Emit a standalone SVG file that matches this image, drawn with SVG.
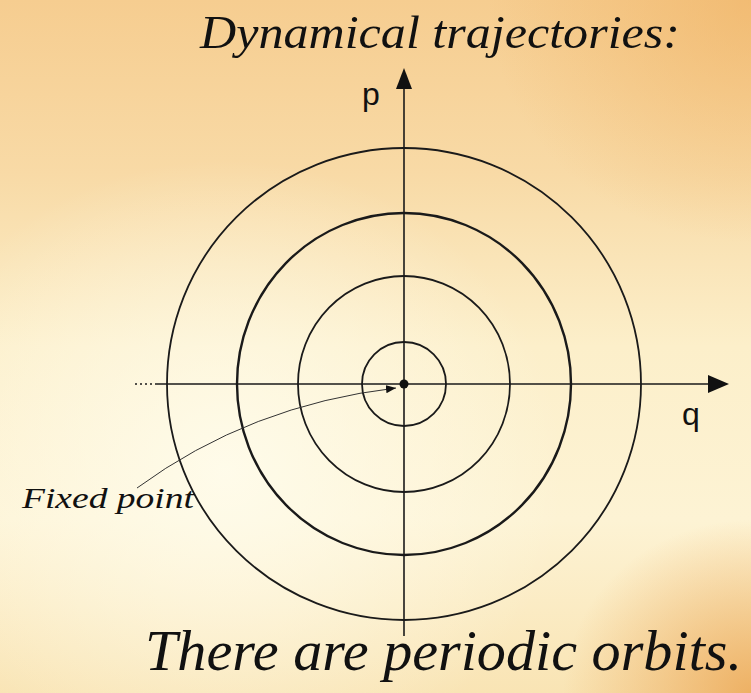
<svg xmlns="http://www.w3.org/2000/svg" width="751" height="693" viewBox="0 0 751 693">
<defs>
<linearGradient id="bg" x1="0" y1="0" x2="0" y2="1">
<stop offset="0" stop-color="#f6cd90"/>
<stop offset="0.25" stop-color="#f8daa6"/>
<stop offset="0.5" stop-color="#fcefca"/>
<stop offset="0.75" stop-color="#fdf3d4"/>
<stop offset="1" stop-color="#f9e4b4"/>
</linearGradient>
<radialGradient id="glow" cx="0.3" cy="0.68" r="0.45">
<stop offset="0" stop-color="#fffdee" stop-opacity="0.85"/>
<stop offset="1" stop-color="#fffdee" stop-opacity="0"/>
</radialGradient>
<radialGradient id="corner" cx="1" cy="1" r="0.25">
<stop offset="0" stop-color="#eba450" stop-opacity="0.8"/>
<stop offset="1" stop-color="#eba450" stop-opacity="0"/>
</radialGradient>
<radialGradient id="corner2" cx="1" cy="0" r="0.35">
<stop offset="0" stop-color="#efb060" stop-opacity="0.6"/>
<stop offset="1" stop-color="#efb060" stop-opacity="0"/>
</radialGradient>
<marker id="ah" viewBox="0 0 10 10" refX="10" refY="5" markerWidth="10" markerHeight="10" markerUnits="userSpaceOnUse" orient="auto">
<path d="M0,1 L10,5 L0,9 Z" fill="#111"/>
</marker>
<style>
.orb{fill:none;stroke:#1a1a1a;stroke-width:1.8}
.ax{fill:none;stroke:#1a1a1a;stroke-width:1.6}
.it{font-family:"Liberation Serif","DejaVu Serif",serif;font-style:italic;fill:#111}
.lbl{font-family:"Liberation Sans","DejaVu Sans",sans-serif;fill:#111}
</style>
</defs>
<rect width="751" height="693" fill="url(#bg)"/>
<rect width="751" height="693" fill="url(#glow)"/>
<rect width="751" height="693" fill="url(#corner)"/>
<rect width="751" height="693" fill="url(#corner2)"/>
<g id="orbits">
<g id="orbit1"><ellipse class="orb" cx="404" cy="384" rx="42" ry="42"/></g>
<g id="orbit2"><ellipse class="orb" cx="404" cy="384" rx="106" ry="108"/></g>
<g id="orbit3"><ellipse class="orb" cx="404" cy="384" rx="167" ry="171" style="stroke-width:2.4"/></g>
<g id="orbit4"><ellipse class="orb" cx="404" cy="384" rx="237" ry="236"/></g>
</g>
<g id="connectors">
<line class="ax" x1="155" y1="384" x2="708" y2="384"/>
<path d="M708,375 L729,384 L708,393 Z" fill="#111"/>
<line class="ax" x1="135" y1="384" x2="155" y2="384" stroke-dasharray="2,3"/>
<line class="ax" x1="404" y1="636" x2="404" y2="88"/>
<path d="M396,89 L404,68 L412,89 Z" fill="#111"/>
<path d="M137,488 Q250,405 396,388" fill="none" stroke="#333" stroke-width="1" marker-end="url(#ah)"/>
</g>
<g id="fixedpoint"><circle cx="404" cy="384" r="4.5" fill="#111"/></g>
<g id="labels">
<text class="lbl" x="362" y="105" font-size="32">p</text>
<text class="lbl" x="682" y="425" font-size="32">q</text>
<text class="it" x="22" y="508" font-size="30" textLength="172" lengthAdjust="spacingAndGlyphs">Fixed point</text>
<text class="it" x="200" y="48" font-size="46" textLength="480" lengthAdjust="spacingAndGlyphs">Dynamical trajectories:</text>
<text class="it" x="145" y="670" font-size="56" textLength="597" lengthAdjust="spacingAndGlyphs">There are periodic orbits.</text>
</g>
</svg>
